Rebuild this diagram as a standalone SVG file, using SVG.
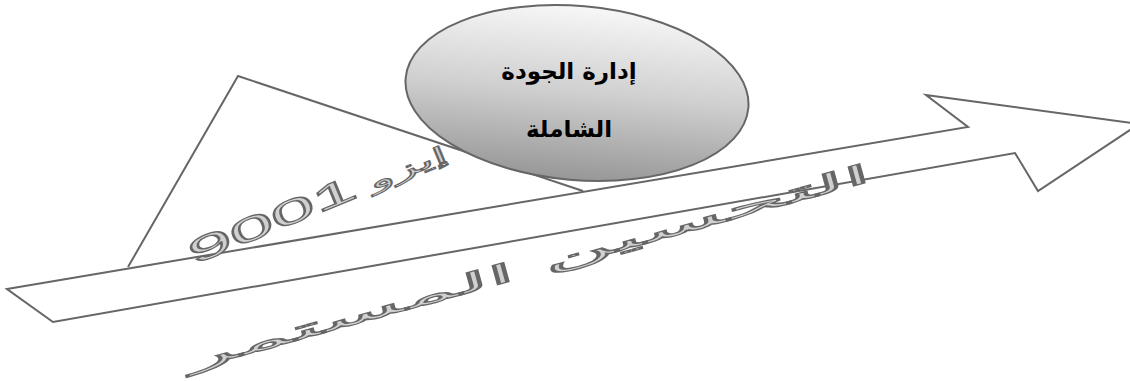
<svg xmlns="http://www.w3.org/2000/svg" width="1130" height="381" viewBox="0 0 1130 381">
<defs>
<linearGradient id="eg" x1="0" y1="0" x2="0" y2="1">
<stop offset="0" stop-color="#f7f7f7"/>
<stop offset="0.5" stop-color="#cfcfcf"/>
<stop offset="1" stop-color="#979797"/>
</linearGradient>
<style>
.ln{fill:none;stroke:#666;stroke-width:2;stroke-linejoin:miter}
.lbl{font-family:"DejaVu Sans",sans-serif;font-weight:bold;font-size:23px;fill:#000;text-anchor:middle}
.wa{fill:#d0d0d0;stroke:#666;stroke-width:1.2}
</style>
</defs>
<rect width="1130" height="381" fill="#fff"/>
<g id="arrow">
<polygon class="ln" points="7,289 968,127 926,95 1139,124 1038,191 1015,153 53,322"/>
</g>
<g id="triangle">
<polyline class="ln" points="128,267 238,76 583,191"/>
</g>
<g id="tqm">
<ellipse cx="577" cy="93" rx="172" ry="87" transform="rotate(5 577 93)" fill="url(#eg)" stroke="#666" stroke-width="2"/>
<text class="lbl" x="569" y="79">إدارة الجودة</text>
<text class="lbl" x="569" y="137">الشاملة</text>
</g>
<g id="iso">
<text class="wa" transform="translate(194,265) rotate(-22.5)" font-family="Liberation Sans, DejaVu Sans, sans-serif" font-size="34" textLength="276" lengthAdjust="spacingAndGlyphs"><tspan font-size="22" stroke-width="1">إيزو </tspan><tspan>9001</tspan></text>
</g>
<g id="kaizen">
<text class="wa" transform="translate(190,370) rotate(-15.5)" font-family="DejaVu Sans, sans-serif" font-size="26" stroke-width="1" textLength="708" lengthAdjust="spacingAndGlyphs">التحسين المستمر</text>
</g>
</svg>
